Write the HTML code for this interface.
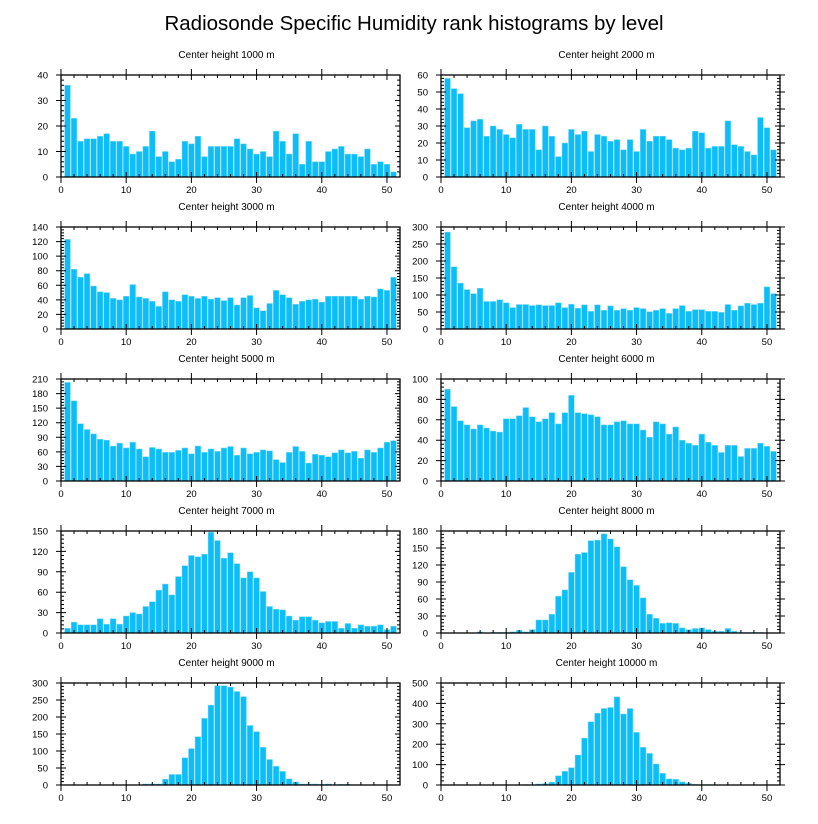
<!DOCTYPE html>
<html><head><meta charset="utf-8"><style>
body{margin:0;background:#fff;}
svg{display:block;font-family:"Liberation Sans",sans-serif;}
</style></head><body>
<svg id="chart" width="818" height="824" viewBox="0 0 818 824">
<text x="414" y="30" font-size="20.5" text-anchor="middle" fill="#000">Radiosonde Specific Humidity rank histograms by level</text>
</svg>
<script>
const levels = ["1000","2000","3000","4000","5000","6000","7000","8000","9000","10000"];
const yMaxes = [40,60,140,300,210,100,150,180,300,500];
const yStepsArr = [10,10,20,50,30,20,30,30,50,100];
const h1000 = [36,23,14,15,15,16,17,14,14,12,9,10,12,18,8,10,6,7,14,13,16,8,12,12,12,12,15,13,11,9,10,8,18,14,9,17,5,14,6,6,10,11,12,9,9,8,11,5,6,5,2];
const h2000 = [58,52,49,29,33,34,24,30,28,25,23,31,28,28,16,30,24,12,20,28,25,27,15,25,24,21,22,16,22,15,28,21,24,24,22,17,16,17,27,26,17,18,18,33,19,18,15,13,35,29,16];
const h3000 = [123,82,71,76,59,51,50,42,40,45,61,44,42,38,31,51,40,38,47,45,42,45,41,43,39,43,33,43,46,29,25,35,53,47,43,34,38,40,41,37,45,45,45,45,45,41,45,44,55,53,71];
const h4000 = [285,183,135,116,104,120,81,81,86,77,63,72,72,69,71,69,69,77,63,73,61,71,52,71,55,68,55,60,55,63,60,51,55,60,46,60,69,52,57,57,52,52,49,72,55,68,76,72,76,124,104];
const h5000 = [203,165,118,106,97,86,84,72,78,68,80,66,50,69,66,59,59,63,68,56,72,59,66,61,68,71,53,68,56,59,64,62,44,38,59,71,61,37,55,53,50,58,64,58,61,47,64,59,68,80,83];
const h6000 = [90,73,59,55,51,55,52,49,48,61,61,64,72,63,58,61,67,56,67,84,67,66,65,63,55,55,58,59,56,56,50,43,58,56,46,53,40,37,35,46,38,35,28,35,35,24,32,32,37,34,29];
const h7000 = [7,16,12,12,12,21,13,21,13,25,30,28,39,46,63,72,56,83,99,114,112,116,148,136,110,118,102,81,90,81,61,39,35,34,25,19,24,24,19,15,17,17,7,14,7,12,10,10,12,5,10];
const h8000 = [0,0,0,0,0,2,0,1,1,1,2,5,2,6,23,23,33,65,76,107,139,142,163,164,175,166,152,117,94,84,62,33,26,17,18,17,9,6,8,9,6,3,3,8,3,1,1,1,1,0,0];
const h9000 = [0,0,0,0,0,0,0,0,0,0,0,0,3,3,3,17,31,31,80,107,142,196,235,292,292,288,275,260,175,157,111,75,55,40,18,9,3,3,3,2,3,1,2,2,0,0,0,0,0,0,0];
const h10000 = [0,0,0,0,0,0,0,0,0,0,0,0,2,1,5,7,14,45,67,85,147,230,310,352,375,380,432,348,375,258,185,155,103,57,30,28,15,8,3,2,2,0,0,0,0,0,0,0,0,0,0];
const xTickLabels = [0,10,20,30,40,50];
const series = [h1000,h2000,h3000,h4000,h5000,h6000,h7000,h8000,h9000,h10000];

const NS = "http://www.w3.org/2000/svg";
const svg = document.getElementById("chart");
function mk(tag, attrs, parent){const e=document.createElementNS(NS,tag);for(const k in attrs)e.setAttribute(k,attrs[k]);(parent||svg).appendChild(e);return e;}

const PW = 339, PH = 102, XMAX = 52;
series.forEach((vals, i) => {
  const col = i % 2, row = Math.floor(i / 2);
  const x0 = col === 0 ? 61 : 441;
  const y0 = 75 + row * 152;
  const ymax = yMaxes[i], ystep = yStepsArr[i];
  const sx = v => x0 + v / XMAX * PW;
  const sy = v => y0 + PH - v / ymax * PH;
  const g = mk("g", {});
  
  
  const t = mk("text", {x: x0 + PW/2 - 4, y: y0 - 17, "font-size": 10, "text-anchor": "middle"}, g);
  
  
  t.textContent = "Center height " + levels[i] + " m";
  vals.forEach((v, k) => {
    if (v <= 0) return;
    const c = k + 1;
    const r = mk("rect", {x: sx(c - 0.44), y: sy(v), width: sx(c + 0.44) - sx(c - 0.44), height: sy(0) - sy(v), fill: "#0cbdf7", stroke: "#7fdcfb", "stroke-width": 0.5}, g);
    
    
  });
  const fr = mk("rect", {x: x0, y: y0, width: PW, height: PH, fill: "none", stroke: "#000", "stroke-width": 1.3}, g);
  
  
  let p = "";
  for (let v = 0; v <= XMAX; v += 2) {
    const x = sx(v);
    if (v % 10 === 0) { p += `M${x} ${y0-6}V${y0+5}M${x} ${y0+PH+6}V${y0+PH-5}`; }
    else { p += `M${x} ${y0}V${y0+3}M${x} ${y0+PH}V${y0+PH-3}`; }
  }
  const mstep = ystep / 5;
  for (let v = 0; v <= ymax + 1e-9; v += mstep) {
    const y = sy(v);
    const major = Math.abs(v / ystep - Math.round(v / ystep)) < 1e-6;
    const L = major ? 5 : 3;
    p += `M${x0 - (major?5:0)} ${y}H${x0 + L}`;
    if (col === 1) p += `M${x0+PW+(major?5:0)} ${y}H${x0+PW-L}`;
    else p += `M${x0+PW} ${y}H${x0+PW-L}`;
  }
  const ax = mk("path", {d: p, stroke: "#000", "stroke-width": 1, fill: "none"}, g);
  
  
  xTickLabels.forEach(v => {
    const tl = mk("text", {x: sx(v), y: y0 + PH + 16, "font-size": 9.5, "text-anchor": "middle"}, g);
    
    
    tl.textContent = v;
  });
  for (let v = 0; v <= ymax + 1e-9; v += ystep) {
    const tl = mk("text", {x: x0 - 13, y: sy(v) + 3.5, "font-size": 9.5, "text-anchor": "end"}, g);
    
    
    tl.textContent = v;
  }
});
</script>
</body></html>
